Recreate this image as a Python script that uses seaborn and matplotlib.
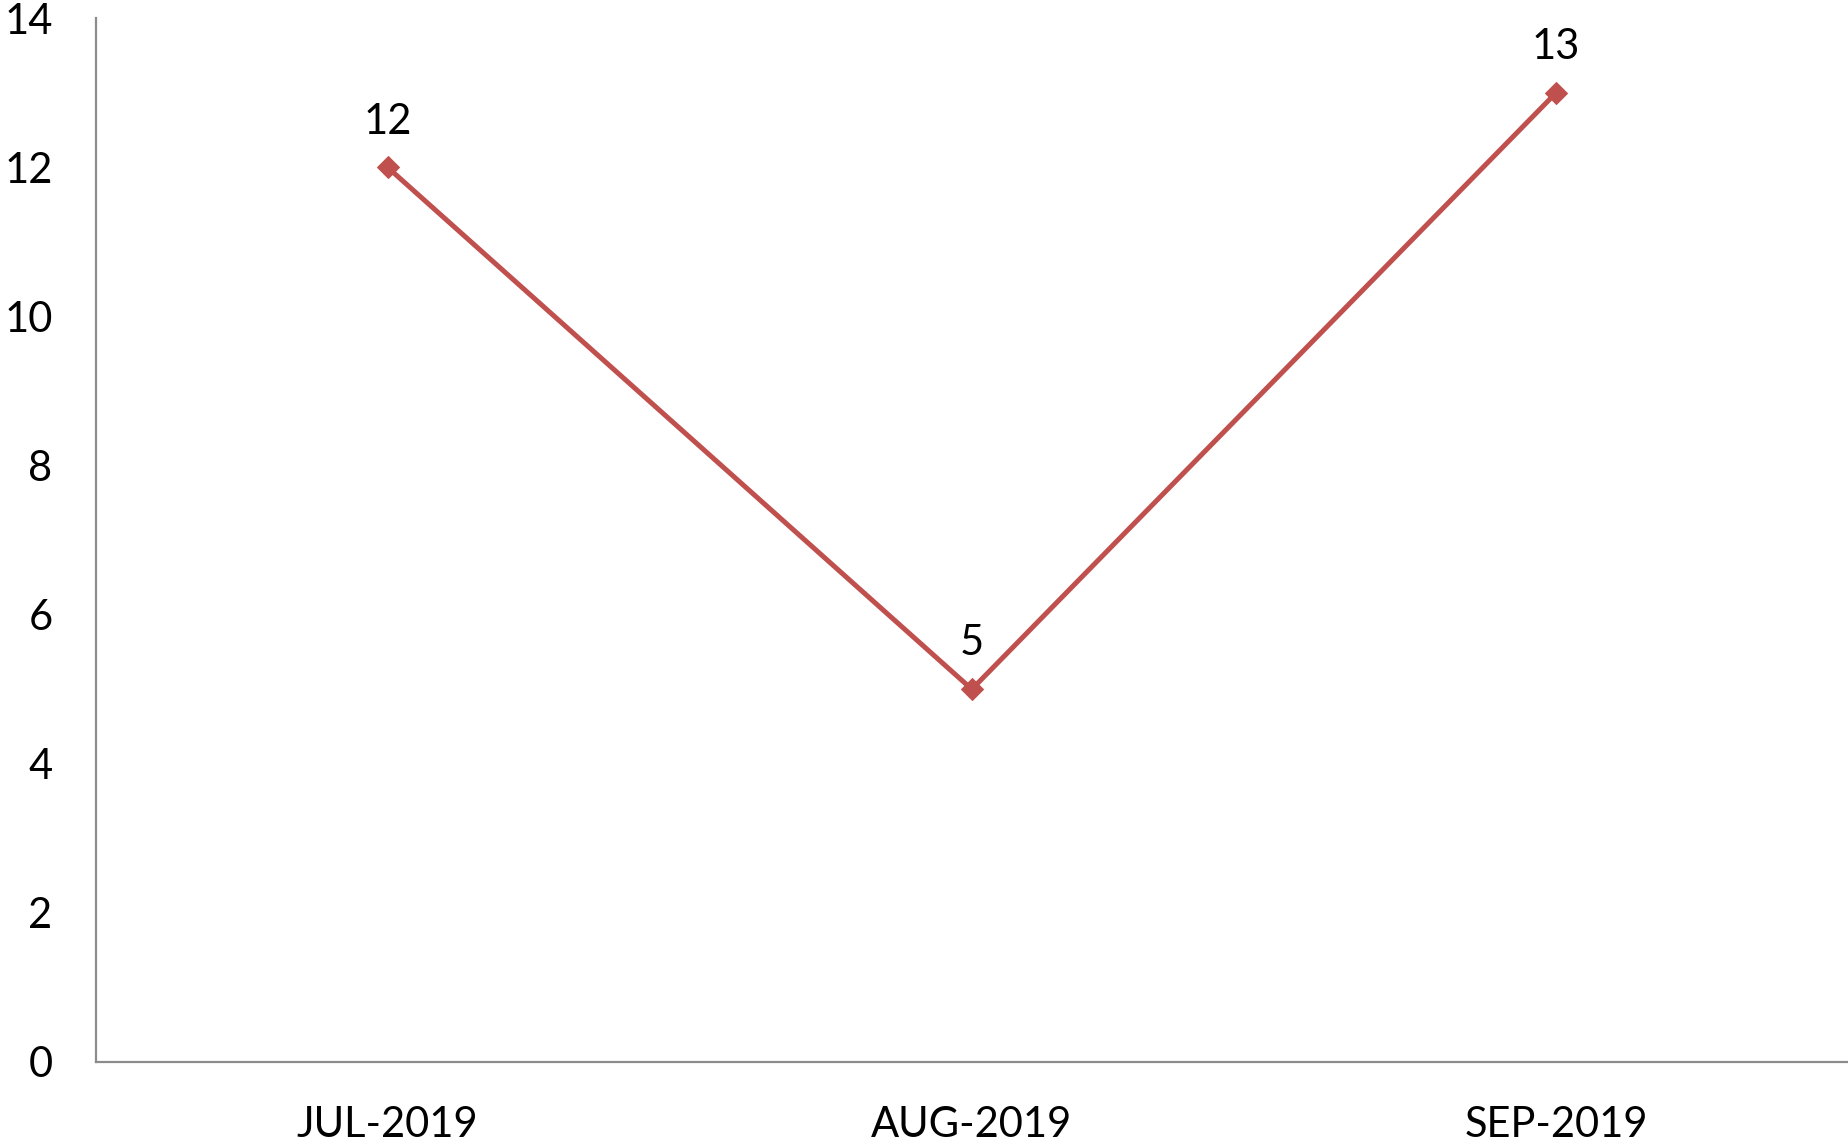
import pandas as pd
import matplotlib.pyplot as plt
import seaborn as sns

months = ['JUL-2019', 'AUG-2019', 'SEP-2019']
values = [12, 5, 13]

sns.set_theme(style="white")
plt.switch_backend('Agg')
plt.rcParams['font.family'] = ['Lato', 'DejaVu Sans']

df = pd.DataFrame({'Month': months, 'Count': values})

fig, ax = plt.subplots(figsize=(18.49, 11.44), dpi=100)
fig.subplots_adjust(left=0.0517, right=0.9995, bottom=0.0717, top=0.984)

line_color = '#C0504D'
sns.lineplot(data=df, x='Month', y='Count', ax=ax, color=line_color,
             linewidth=3.6, marker='D', markersize=11, markeredgecolor=line_color,
             sort=False)

# value labels above each point
for i, v in enumerate(df['Count']):
    ax.annotate(str(v), (i, v), xytext=(0, 33), textcoords='offset points',
                ha='center', va='center', fontsize=30, color='black')

ax.set_xlim(-0.5, 2.5)
ax.set_ylim(0, 14)
ax.set_yticks(range(0, 15, 2))
ax.set_xlabel('')
ax.set_ylabel('')
ax.tick_params(axis='both', labelsize=30, length=0, colors='black')
ax.tick_params(axis='y', pad=31)
ax.tick_params(axis='x', pad=32)

for side in ['top', 'right']:
    ax.spines[side].set_visible(False)
for side in ['left', 'bottom']:
    ax.spines[side].set_color('#8C8C8C')
    ax.spines[side].set_linewidth(1.6)

plt.savefig('out.png', dpi=100)
plt.close('all')
